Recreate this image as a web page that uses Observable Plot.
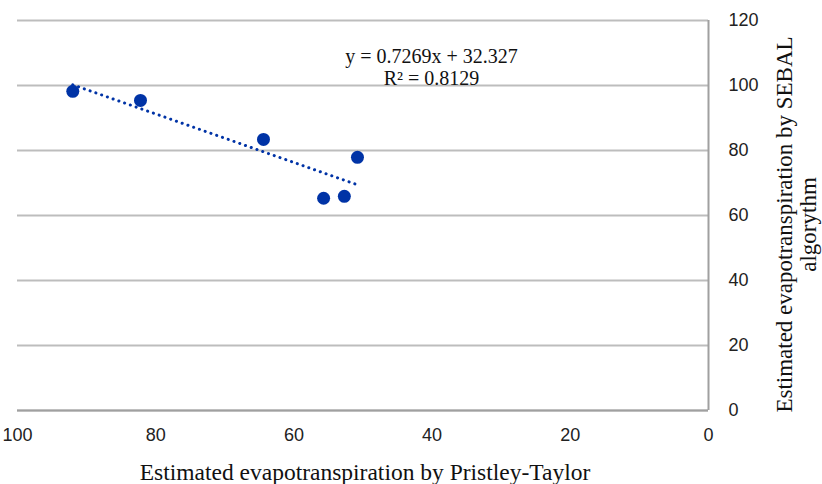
<!DOCTYPE html>
<html>
<head>
<meta charset="utf-8">
<script src="https://cdn.jsdelivr.net/npm/d3@7"></script>
<script src="https://cdn.jsdelivr.net/npm/@observablehq/plot@0.6"></script>
<style>
  html, body { margin: 0; padding: 0; background: #fff; }
</style>
</head>
<body>
<div id="chart"></div>
<script>
// Data
const pristleyTaylor = [92.0, 82.2, 64.4, 50.8, 55.7, 52.7];
const sebal = [98.2, 95.4, 83.4, 77.9, 65.3, 65.9];
const xTicks = [100, 80, 60, 40, 20, 0];
const yTicks = [0, 20, 40, 60, 80, 100, 120];
const equationLines = ["y = 0.7269x + 32.327", "R² = 0.8129"];
const xTitle = "Estimated evapotranspiration by Pristley-Taylor";
const yTitle = "Estimated evapotranspiration by SEBAL\nalgorythm";

const points = pristleyTaylor.map((x, i) => ({x, y: sebal[i]}));

const serif = "'Liberation Serif', 'Times New Roman', serif";
const sans = "'Liberation Sans', 'Open Sans', sans-serif";
const blue = "#0033a6";

const chart = Plot.plot({
  width: 822,
  height: 484,
  marginLeft: 17,
  marginRight: 114,
  marginTop: 20,
  marginBottom: 74,
  style: {fontFamily: sans, fontSize: "18px", color: "#222", background: "#fff"},
  x: {domain: [100, 0], ticks: xTicks},
  y: {domain: [0, 120], ticks: yTicks},
  marks: [
    Plot.gridY(yTicks, {stroke: "#bdbdbd", strokeOpacity: 1, strokeWidth: 2}),
    Plot.ruleY([0], {stroke: "#a0a0a0", strokeWidth: 2}),
    Plot.ruleX([0], {stroke: "#a0a0a0", strokeWidth: 2}),
    Plot.axisX({ticks: xTicks, tickSize: 0, tickPadding: 18, label: null, fontSize: 18}),
    Plot.axisY({ticks: yTicks, anchor: "right", tickSize: 0, tickPadding: 20, label: null, fontSize: 18}),
    Plot.linearRegressionY(points, {x: "x", y: "y", ci: 0, stroke: blue, strokeWidth: 3, strokeDasharray: "0.1 6", strokeLinecap: "round"}),
    Plot.dot(points, {x: "x", y: "y", r: 6.5, fill: blue, stroke: "none"}),
    Plot.text([equationLines.join("\n")], {
      frameAnchor: "top-left", dx: 414, dy: 46, lineHeight: 1.1, lineAnchor: "middle",
      fontFamily: serif, fontSize: 20, fill: "#111", textAnchor: "middle"
    }),
    Plot.text([xTitle], {
      frameAnchor: "bottom", dy: 62, dx: 2, lineAnchor: "middle", textAnchor: "middle",
      fontFamily: serif, fontSize: 23.5, fill: "#111"
    }),
    Plot.text([yTitle], {
      frameAnchor: "right", dx: 88, dy: 9, rotate: -90, lineHeight: 1.05,
      textAnchor: "middle", lineAnchor: "middle",
      fontFamily: serif, fontSize: 23, fill: "#111"
    })
  ]
});
document.getElementById("chart").append(chart);
</script>
</body>
</html>
